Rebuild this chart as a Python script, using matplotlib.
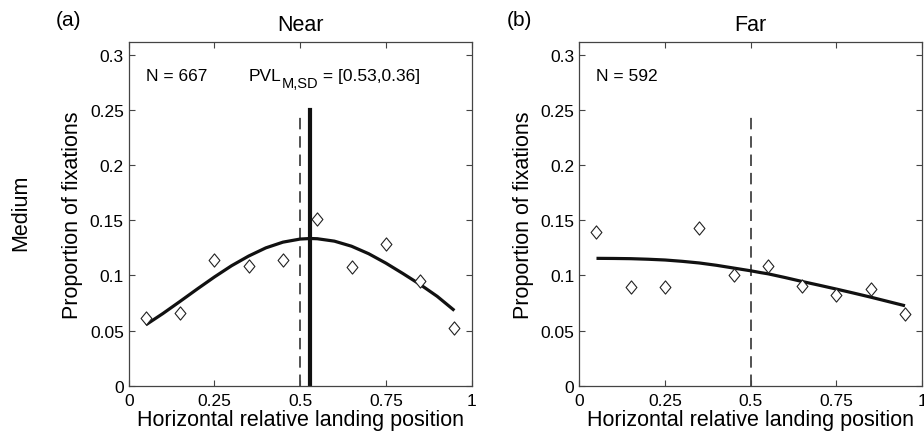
import numpy as np
import matplotlib
matplotlib.use('Agg')
import matplotlib.pyplot as plt
from matplotlib.path import Path
from matplotlib.transforms import offset_copy

plt.rcParams['font.family'] = ['Liberation Sans', 'DejaVu Sans']

# bin centres of relative landing position
bins = [0.05, 0.15, 0.25, 0.35, 0.45, 0.55, 0.65, 0.75, 0.85, 0.95]
near_prop = [0.0613, 0.0658, 0.1136, 0.1090, 0.1136, 0.1513, 0.1076, 0.1288, 0.0949, 0.0525]
far_prop = [0.1394, 0.0891, 0.0891, 0.1431, 0.1004, 0.1082, 0.0906, 0.0824, 0.0876, 0.0652]

# fitted curves
fit_x = [0.05, 0.10, 0.15, 0.20, 0.25, 0.30, 0.35, 0.40, 0.45, 0.50,
         0.53, 0.55, 0.60, 0.65, 0.70, 0.75, 0.80, 0.85, 0.90, 0.95]
near_fit = [0.0552, 0.0655, 0.0765, 0.0877, 0.0986, 0.1088, 0.1176, 0.1250, 0.1302, 0.1330,
            0.1335, 0.1333, 0.1311, 0.1265, 0.1197, 0.1112, 0.1017, 0.0918, 0.0810, 0.0682]
far_fit = [0.1155, 0.1154, 0.1152, 0.1147, 0.1140, 0.1128, 0.1113, 0.1092, 0.1067, 0.1042,
           0.1025, 0.1015, 0.0981, 0.0945, 0.0911, 0.0876, 0.0840, 0.0803, 0.0764, 0.0725]

titles = ['Near', 'Far']
panel_tags = ['(a)', '(b)']
n_counts = [667, 592]
pvl_mean, pvl_sd = 0.53, 0.36
xticks = [0, 0.25, 0.5, 0.75, 1]
xticklabels = ['0', '0.25', '0.5', '0.75', '1']
yticks = [0, 0.05, 0.1, 0.15, 0.2, 0.25, 0.3]
yticklabels = ['0', '0.05', '0.1', '0.15', '0.2', '0.25', '0.3']

diamond = Path([(0, 1), (0.82, 0), (0, -1), (-0.82, 0), (0, 1)],
               [Path.MOVETO, Path.LINETO, Path.LINETO, Path.LINETO, Path.CLOSEPOLY])

fig = plt.figure(figsize=(9.24, 4.39), dpi=100)
ax1 = fig.add_axes([0.1393, 0.1192, 0.371, 0.7822])
ax2 = fig.add_axes([0.6270, 0.1192, 0.371, 0.7822])

data = [(near_prop, near_fit), (far_prop, far_fit)]
for i, ax in enumerate([ax1, ax2]):
    props, fit = data[i]
    ax.plot(fit_x, fit, color='#111111', linewidth=2.3, solid_capstyle='butt', zorder=2)
    ax.plot(bins, props, linestyle='none', marker=diamond, markersize=9.5,
            markerfacecolor='white', markeredgecolor='#222222', markeredgewidth=0.8, zorder=3)
    ax.plot([0.5, 0.5], [0, 0.245], color='#222222', linewidth=1.1,
            dashes=(7.5, 4.5), zorder=1)
    ax.set_xlim(0, 1)
    ax.set_ylim(0, 0.3115)
    ax.set_xticks(xticks)
    ax.set_xticklabels(xticklabels)
    ax.set_yticks(yticks)
    ax.set_yticklabels(yticklabels)
    ax.tick_params(direction='in', length=4, width=0.8, color='#444444',
                   top=True, right=True, labelsize=12.5)
    ax.tick_params(axis='x', pad=5)
    ax.tick_params(axis='y', pad=3.5)
    for sp in ax.spines.values():
        sp.set_color('#444444')
        sp.set_linewidth(0.9)
    ax.set_xlabel('Horizontal relative landing position', fontsize=15.5, labelpad=1)
    ax.set_ylabel('Proportion of fixations', fontsize=15.5, labelpad=5)
    ax.set_title(titles[i], fontsize=15.5, pad=9)
    ax.text(0.05, 0.277, 'N = %d' % n_counts[i], fontsize=12.5, va='baseline', ha='left')
    ax.text(-0.175, 1.065, panel_tags[i], transform=ax.transAxes, fontsize=15,
            ha='center', va='center')

ax1.plot([pvl_mean, pvl_mean], [0, 0.25], color='#111111', linewidth=3, zorder=2)

# PVL label with subscript, built from pieces
fig.canvas.draw()
renderer = fig.canvas.get_renderer()
t1 = ax1.text(0.351, 0.277, 'PVL', fontsize=12.5, va='baseline', ha='left')
w1 = t1.get_window_extent(renderer).width * 72 / fig.dpi
t2 = ax1.text(0.351, 0.277, 'M,SD', fontsize=10.5, va='baseline', ha='left',
              transform=offset_copy(ax1.transData, fig=fig, x=w1, y=-5, units='points'))
w2 = t2.get_window_extent(renderer).width * 72 / fig.dpi
ax1.text(0.351, 0.277, ' = [%.2f,%.2f]' % (pvl_mean, pvl_sd), fontsize=12.5,
         va='baseline', ha='left',
         transform=offset_copy(ax1.transData, fig=fig, x=w1 + w2, y=0, units='points'))

fig.text(0.022, 0.515, 'Medium', rotation=90, fontsize=15.5, ha='center', va='center')

fig.savefig('out.png', dpi=100)
